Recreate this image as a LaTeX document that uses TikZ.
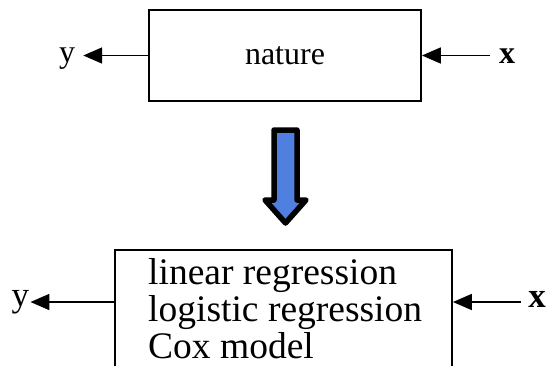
\documentclass[tikz,border=0pt]{standalone}
\usepackage{fontspec}
\setmainfont{Liberation Serif}
\usetikzlibrary{arrows.meta}
\definecolor{arrowblue}{RGB}{79,128,223}
\tikzset{
  box/.style={draw=black, line width=1.8pt, rectangle, inner sep=0pt},
  arr/.style={line width=1.8pt, -{Triangle[length=19pt,width=16pt]}},
  topfont/.style={font=\fontsize{32}{32}\selectfont},
  botfont/.style={font=\fontsize{37.5}{37.5}\selectfont},
  lblfont/.style={font=\fontsize{35}{35}\selectfont},
  bigarrow/.style={draw=black, fill=arrowblue, line width=5.5pt, line join=round},
}
\begin{document}
\begin{tikzpicture}[x=1pt,y=-1pt]
\useasboundingbox (0,0) rectangle (548,365);
\clip (0,0) rectangle (548,365);
% top row
\node[box, topfont, minimum width=272pt, minimum height=91pt] (nature) at (285,55.5) {nature};
\node[topfont, anchor=base, inner xsep=8pt, inner ysep=0pt] (yt) at (67,62) {y};
\node[topfont, anchor=base, inner xsep=9pt, inner ysep=0pt] (xt) at (507,63) {\textbf{x}};
\draw[arr] (nature.west) -- (nature.west -| yt.east);
\draw[arr] (nature.east -| xt.west) -- (nature.east);
% big blue arrow
\draw[bigarrow] (274,130) -- (297,130) -- (297,200) -- (306,200) -- (285.5,223) -- (265,200) -- (274,200) -- cycle;
% bottom row
\node[box, minimum width=337pt, minimum height=150pt] (model) at (283.5,325) {};
\node[botfont, anchor=base west, inner sep=0pt] (l1) at (148,284) {linear regression};
\node[botfont, anchor=base west, inner sep=0pt] (l2) at (148,321) {logistic regression};
\node[botfont, anchor=base west, inner sep=0pt] (l3) at (148,358) {Cox model};
\coordinate (lvl) at (0,302);
\node[lblfont, anchor=base, inner xsep=1pt, inner ysep=0pt] (yb) at (20.5,306) {y};
\node[lblfont, anchor=base, inner xsep=7pt, inner ysep=0pt] (xb) at (537,307) {\textbf{x}};
\draw[arr] (model.west |- lvl) -- (yb.east |- lvl);
\draw[arr] (xb.west |- lvl) -- (model.east |- lvl);
\end{tikzpicture}
\end{document}
